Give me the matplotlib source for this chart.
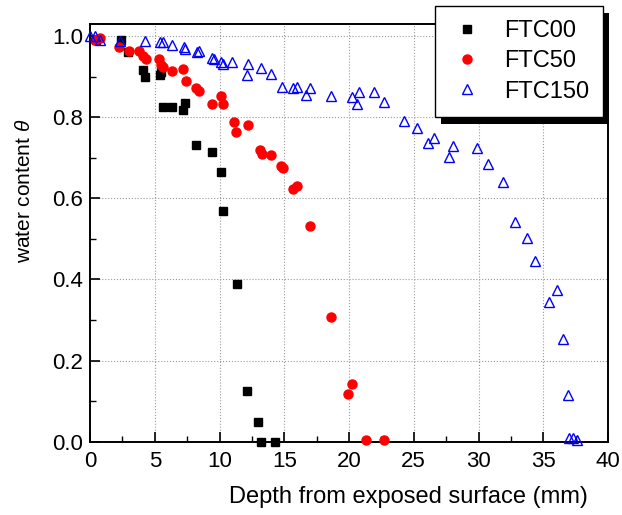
import matplotlib
matplotlib.use("Agg")
import matplotlib.pyplot as plt
import matplotlib.patches as mpatches
from matplotlib.ticker import MultipleLocator

plt.rcParams['font.family'] = ['Liberation Sans', 'DejaVu Sans']
plt.rcParams['mathtext.fontset'] = 'custom'
plt.rcParams['mathtext.it'] = 'Liberation Sans:italic'

# depth (mm) and water content for each freeze-thaw series
ftc00_x = [0.5, 2.4, 2.96, 4.12, 4.25, 5.4, 5.5, 5.66, 6.3, 7.2, 7.34, 8.2, 9.4,
           10.1, 10.25, 11.33, 12.15, 13.0, 13.2, 14.3]
ftc00_y = [0.99, 0.99, 0.962, 0.917, 0.90, 0.904, 0.912, 0.826, 0.826, 0.818, 0.835,
           0.732, 0.715, 0.666, 0.57, 0.39, 0.125, 0.048, 0.0, 0.0]

ftc50_x = [0.4, 0.77, 2.25, 3.0, 3.75, 4.1, 4.3, 5.3, 5.5, 5.6, 6.3, 7.2, 7.4, 8.2,
           8.4, 9.4, 10.1, 10.3, 11.1, 11.3, 12.2, 13.1, 13.3, 13.95, 14.75, 14.9,
           15.7, 15.96, 17.0, 18.6, 19.95, 20.2, 21.3, 22.7]
ftc50_y = [0.99, 0.995, 0.974, 0.964, 0.964, 0.951, 0.943, 0.943, 0.93, 0.925, 0.913,
           0.919, 0.89, 0.872, 0.865, 0.833, 0.853, 0.833, 0.788, 0.764, 0.782, 0.72,
           0.709, 0.707, 0.68, 0.674, 0.623, 0.631, 0.533, 0.308, 0.117, 0.142, 0.004,
           0.003]

ftc150_x = [0.0, 0.39, 0.77, 2.3, 4.25, 5.4, 5.66, 6.3, 7.26, 7.34, 8.24, 8.42, 9.45,
            9.55, 10.1, 10.25, 10.94, 12.18, 12.1, 13.2, 13.95, 14.85, 15.7, 16.0,
            16.7, 17.0, 18.6, 20.2, 20.77, 20.64, 21.95, 22.73, 24.25, 25.23, 26.07,
            26.56, 27.7, 28.06, 29.86, 30.76, 31.87, 32.8, 33.72, 34.4, 35.47, 36.04,
            36.5, 36.94, 37.02, 37.28, 37.64]
ftc150_y = [1.0, 1.0, 0.99, 0.989, 0.989, 0.985, 0.986, 0.978, 0.974, 0.968, 0.96,
            0.963, 0.945, 0.944, 0.937, 0.931, 0.937, 0.931, 0.904, 0.921, 0.907,
            0.875, 0.871, 0.875, 0.855, 0.871, 0.852, 0.851, 0.863, 0.832, 0.862,
            0.837, 0.791, 0.773, 0.736, 0.748, 0.703, 0.729, 0.724, 0.686, 0.641,
            0.541, 0.503, 0.446, 0.344, 0.374, 0.253, 0.115, 0.01, 0.01, 0.004]

fig = plt.figure(figsize=(6.22, 5.15), dpi=100)
ax = fig.add_axes([90 / 622, 1 - 441.7 / 515, 518 / 622, 417.7 / 515])

ax.plot(ftc00_x, ftc00_y, ls='none', marker='s', ms=5.5, color='black',
        label='FTC00', clip_on=False, zorder=3)
ax.plot(ftc50_x, ftc50_y, ls='none', marker='o', ms=6.5, color='#ff0000',
        label='FTC50', clip_on=False, zorder=3)
ax.plot(ftc150_x, ftc150_y, ls='none', marker='^', ms=7, mfc='none', mec='#0000ff',
        mew=1.0, label='FTC150', clip_on=False, zorder=4)

ax.set_xlim(0, 40)
ax.set_ylim(0, 1.03)
ax.xaxis.set_major_locator(MultipleLocator(5))
ax.xaxis.set_minor_locator(MultipleLocator(2.5))
ax.yaxis.set_major_locator(MultipleLocator(0.2))
ax.yaxis.set_minor_locator(MultipleLocator(0.1))
ax.yaxis.set_major_formatter(plt.FormatStrFormatter('%.1f'))
ax.tick_params(which='major', direction='in', length=7, width=1.2, labelsize=16)
ax.tick_params(axis='x', which='major', pad=7)
ax.tick_params(axis='y', which='major', pad=5)
ax.tick_params(which='minor', direction='in', length=4, width=1.0)
ax.grid(True, which='major', ls=':', color='#999999', lw=0.8)
for s in ax.spines.values():
    s.set_linewidth(1.4)

ax.set_xlabel('Depth from exposed surface (mm)', fontsize=17)
ax.xaxis.set_label_coords(0.614, -0.105)
ax.set_ylabel(r'water content $\theta$', fontsize=15)
ax.yaxis.set_label_coords(-0.108, 0.60)

leg = fig.legend(loc='upper right', bbox_to_anchor=(603 / 622, 1 - 6 / 515),
                 borderaxespad=0, fontsize=17, frameon=True, fancybox=False,
                 framealpha=1, edgecolor='black', borderpad=0.6, handletextpad=0.8,
                 labelspacing=0.35, handlelength=1.5)
leg.get_frame().set_linewidth(1.0)

# solid black drop shadow behind the legend box
fig.canvas.draw()
bb = leg.get_window_extent().transformed(fig.transFigure.inverted())
shadow = mpatches.Rectangle((bb.x0 + 6 / 622, bb.y0 - 7 / 515), bb.width, bb.height,
                            transform=fig.transFigure, facecolor='black',
                            edgecolor='none', zorder=leg.get_zorder() - 0.5)
fig.patches.append(shadow)

fig.savefig('out.png', dpi=100)
